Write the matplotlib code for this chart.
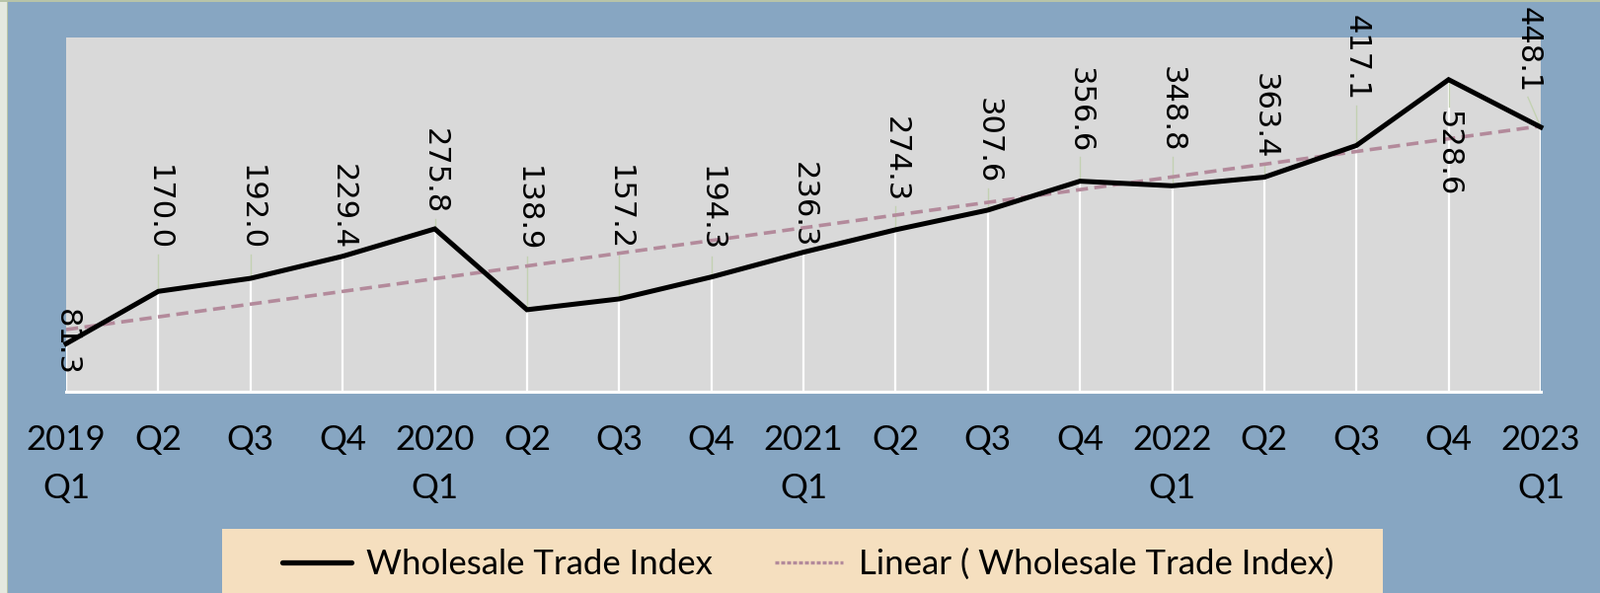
import numpy as np
import matplotlib
matplotlib.use("Agg")
import matplotlib.pyplot as plt
from matplotlib.lines import Line2D
from matplotlib.patches import Rectangle

# quarterly wholesale trade index, 2019 Q1 .. 2023 Q1
quarters = ['2019\nQ1', 'Q2', 'Q3', 'Q4',
            '2020\nQ1', 'Q2', 'Q3', 'Q4',
            '2021\nQ1', 'Q2', 'Q3', 'Q4',
            '2022\nQ1', 'Q2', 'Q3', 'Q4',
            '2023\nQ1']
index_values = [81.3, 170.0, 192.0, 229.4,
                275.8, 138.9, 157.2, 194.3,
                236.3, 274.3, 307.6, 356.6,
                348.8, 363.4, 417.1, 528.6,
                448.1]

# where the (rotated) data labels sit, in y units
label_y = [83, 312, 312, 314, 373, 309, 311, 309, 317,
           394, 425, 477, 478, 466, 565, 403, 579]

BG_BLUE = '#87a6c2'
PLOT_GRAY = '#d9d9d9'
TREND_COL = '#b38a9b'
LEGEND_BG = '#f5dfbf'
LEADER_COL = '#c3d1b2'

W, H = 1621, 601
fig = plt.figure(figsize=(W / 100, H / 100), dpi=100, facecolor=BG_BLUE)

# pale border strip at the left / top edge
fig.patches.append(Rectangle((0, 0), 7 / W, 1, transform=fig.transFigure,
                             facecolor='#e4e8df', edgecolor='none', zorder=0))
fig.patches.append(Rectangle((7 / W, 0), 1.2 / W, 1, transform=fig.transFigure,
                             facecolor='#b8c4a8', edgecolor='none', zorder=0))
fig.patches.append(Rectangle((0, 1 - 1.5 / H), 1, 1.5 / H, transform=fig.transFigure,
                             facecolor='#b8c4a8', edgecolor='none', zorder=0))

ax = fig.add_axes([67 / W, 1 - 397 / H, (1561 - 67) / W, (397 - 38) / H])
ax.set_facecolor(PLOT_GRAY)

x = np.arange(len(index_values))
vals = np.array(index_values)

# white drop lines from each point to the axis
ax.vlines(x, 0, vals, colors='white', linewidth=1.6, zorder=2)

# linear trend (same as excel's trendline)
slope, intercept = np.polyfit(x, vals, 1)
ax.plot(x, slope * x + intercept, color=TREND_COL, linewidth=2.6,
        dashes=(3.4, 1.8), zorder=3, clip_on=False)

ax.plot(x, vals, color='black', linewidth=3.6, zorder=4, clip_on=False,
        solid_joinstyle='miter')

# data labels + thin leader lines
for i, (v, ly) in enumerate(zip(index_values, label_y)):
    dx = -0.14 if i == len(index_values) - 1 else 0
    ax.text(i + dx, ly, '%.1f' % v, rotation=270, ha='center', va='center',
            fontsize=22, family='DejaVu Sans', color='black', zorder=5,
            clip_on=False)
    d = ly - v
    if abs(d) > 85:
        end = ly - np.sign(d) * 80
        ax.plot([i, i + dx], [v, end], color=LEADER_COL, linewidth=1, zorder=2.5)

ax.set_xlim(0, len(index_values) - 1)
ax.set_ylim(0, 600)
ax.set_yticks([])
ax.set_xticks(x)
ax.set_xticklabels(quarters, fontsize=25, family='Lato', linespacing=1.65)
ax.tick_params(axis='x', length=0, pad=24, colors='black')

for s in ['top', 'left', 'right']:
    ax.spines[s].set_visible(False)
ax.spines['bottom'].set_color('white')
ax.spines['bottom'].set_linewidth(2.2)

# legend box at the bottom
fig.patches.append(Rectangle((225 / W, 0), (1401 - 225) / W, (601 - 536) / H,
                             transform=fig.transFigure, facecolor=LEGEND_BG,
                             edgecolor='none', zorder=1))
handles = [Line2D([], [], color='black', linewidth=3.8, solid_capstyle='round'),
           Line2D([], [], color=TREND_COL, linewidth=2.4, dashes=(1.2, 0.6))]
leg = fig.legend(handles, ['Wholesale Trade Index', 'Linear ( Wholesale Trade Index)'],
                 loc='center', bbox_to_anchor=((293 + 1344) / 2 / W, 1 - 572 / H),
                 ncol=2, frameon=False, handlelength=2.0, handletextpad=0.45,
                 columnspacing=1.8, prop={'family': 'Lato', 'size': 25})
leg.set_zorder(2)

fig.savefig('out.png', dpi=100, facecolor=fig.get_facecolor())
